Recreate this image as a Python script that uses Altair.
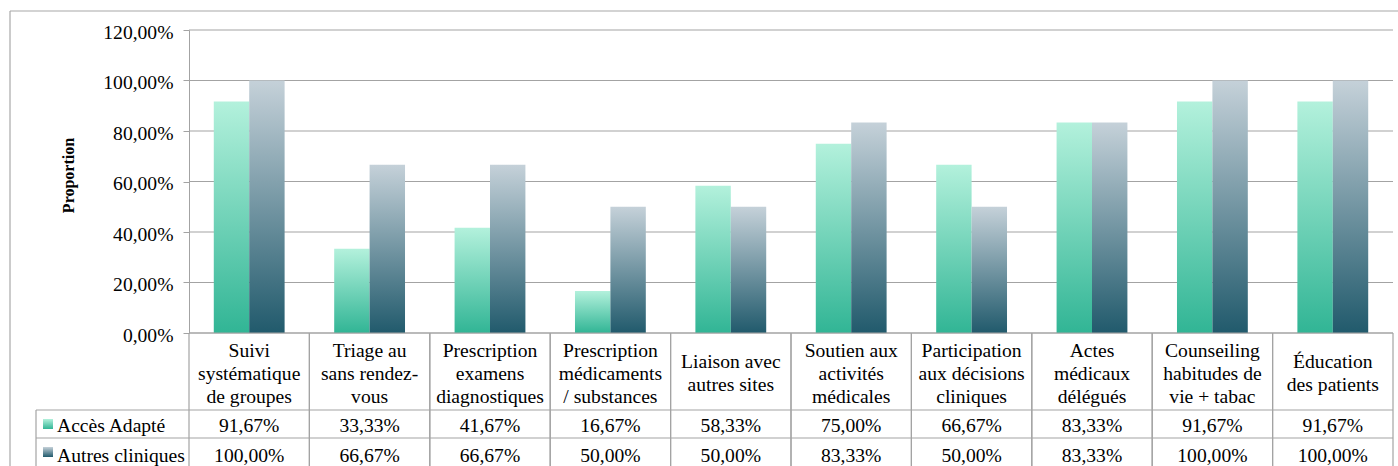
import altair as alt
import pandas as pd

category_lines = [
    ["Suivi", "systématique", "de groupes"],
    ["Triage au", "sans rendez-", "vous"],
    ["Prescription", "examens", "diagnostiques"],
    ["Prescription", "médicaments", "/ substances"],
    ["Liaison avec", "autres sites"],
    ["Soutien aux", "activités", "médicales"],
    ["Participation", "aux décisions", "cliniques"],
    ["Actes", "médicaux", "délégués"],
    ["Counseiling", "habitudes de", "vie + tabac"],
    ["Éducation", "des patients"],
]
categories = [" ".join(l) for l in category_lines]
series_names = ["Accès Adapté", "Autres cliniques"]
acces_adapte = [0.9167, 0.3333, 0.4167, 0.1667, 0.5833, 0.75, 0.6667, 0.8333, 0.9167, 0.9167]
autres_cliniques = [1.0, 0.6667, 0.6667, 0.50, 0.50, 0.8333, 0.50, 0.8333, 1.0, 1.0]
y_ticks = [0, 0.2, 0.4, 0.6, 0.8, 1.0, 1.2]

FONT = "Liberation Serif"
FS = 19.6
GRID = "#a3a3a3"

grad_green = {"gradient": "linear", "x1": 0, "y1": 0, "x2": 0, "y2": 1,
              "stops": [{"offset": 0, "color": "#b3f1dc"}, {"offset": 1, "color": "#31b595"}]}
grad_grey = {"gradient": "linear", "x1": 0, "y1": 0, "x2": 0, "y2": 1,
             "stops": [{"offset": 0, "color": "#c5d1d9"}, {"offset": 1, "color": "#215a6c"}]}
gradients = [grad_green, grad_grey]

rows = []
for i, c in enumerate(categories):
    rows.append({"category": c, "series": series_names[0], "value": acces_adapte[i]})
    rows.append({"category": c, "series": series_names[1], "value": autres_cliniques[i]})
df = pd.DataFrame(rows)

W, H = 1204, 303

xenc = alt.X("category:N", sort=categories,
             scale=alt.Scale(paddingInner=0, paddingOuter=0), axis=None)

base = alt.Chart(df)

grid = alt.Chart(pd.DataFrame({"t": y_ticks})).mark_rule(color=GRID, strokeWidth=1.2).encode(
    y=alt.Y("t:Q", scale=alt.Scale(domain=[0, 1.2])),
    x=alt.value(0), x2=alt.value(W))

bars = []
for s, g in zip(series_names, gradients):
    bars.append(base.transform_filter(alt.datum.series == s).mark_bar(fill=g).encode(
        x=xenc,
        xOffset=alt.XOffset("series:N", scale=alt.Scale(domain=series_names, paddingOuter=0.7, paddingInner=0)),
        y=alt.Y("value:Q", scale=alt.Scale(domain=[0, 1.2], nice=False),
                axis=alt.Axis(values=y_ticks, grid=False,
                              labelExpr="replace(format(datum.value, '.2%'), '.', ',')",
                              labelFont=FONT, labelFontSize=FS, labelColor="#000",
                              labelPadding=10, labelOffset=2,
                              tickColor=GRID, tickSize=6, domainColor=GRID,
                              title="Proportion", titleFont=FONT, titleFontSize=16,
                              titleFontWeight="bold", titleColor="#000",
                              titleX=-121, titleY=145, titleAngle=-90,
                              titleBaseline="middle", titleAlign="center")),
    ))

cat_df = pd.DataFrame({"category": categories,
                       "label": ["\n".join(l) for l in category_lines],
                       "n": [len(l) for l in category_lines]})
cat_base = alt.Chart(cat_df)

cat_text = []
for n, yv in ((3, 327), (2, 338)):
    cat_text.append(cat_base.transform_filter(alt.datum.n == n).mark_text(
        font=FONT, fontSize=FS, lineBreak="\n", lineHeight=23,
        baseline="alphabetic", color="#000").encode(
        x=xenc, y=alt.value(yv), text="label:N"))

edges_l = cat_base.mark_rule(color=GRID, strokeWidth=1.2).encode(
    x=alt.X("category:N", sort=categories, scale=alt.Scale(paddingInner=0, paddingOuter=0),
            axis=None, bandPosition=0),
    y=alt.value(H), y2=alt.value(436))
edges_r = cat_base.mark_rule(color=GRID, strokeWidth=1.2).encode(
    x=alt.X("category:N", sort=categories, scale=alt.Scale(paddingInner=0, paddingOuter=0),
            axis=None, bandPosition=1),
    y=alt.value(H), y2=alt.value(436))

one = pd.DataFrame({"k": [0]})
hlines = [
    alt.Chart(one).mark_rule(color=GRID, strokeWidth=1.2).encode(
        x=alt.value(-153), x2=alt.value(W), y=alt.value(yv))
    for yv in (380, 408)
] + [
    alt.Chart(one).mark_rule(color=GRID, strokeWidth=1.2).encode(
        x=alt.value(0), x2=alt.value(W), y=alt.value(H)),
    alt.Chart(one).mark_rule(color=GRID, strokeWidth=1.2).encode(
        x=alt.value(-153), y=alt.value(380), y2=alt.value(436)),
    # outer chart border
    alt.Chart(one).mark_rule(color="#a8a8a8", strokeWidth=1.2).encode(
        x=alt.value(-179), x2=alt.value(W + 10), y=alt.value(-19)),
    alt.Chart(one).mark_rule(color="#a8a8a8", strokeWidth=1.2).encode(
        x=alt.value(-179), y=alt.value(-19), y2=alt.value(440)),
]

row_y = [402, 432]
swatch_y = [389, 417]
table_layers = []
for s, g, ry, sy in zip(series_names, gradients, row_y, swatch_y):
    table_layers.append(base.transform_filter(alt.datum.series == s).transform_calculate(
        txt="replace(format(datum.value, '.2%'), '.', ',')").mark_text(
        font=FONT, fontSize=FS, color="#000", baseline="alphabetic").encode(
        x=xenc, y=alt.value(ry), text="txt:N"))
    leg = pd.DataFrame({"series": [s]})
    table_layers.append(alt.Chart(leg).mark_rect(fill=g).encode(
        x=alt.value(-146), x2=alt.value(-136), y=alt.value(sy), y2=alt.value(sy + 10)))
    table_layers.append(alt.Chart(leg).mark_text(
        font=FONT, fontSize=FS, color="#000", align="left", baseline="alphabetic").encode(
        x=alt.value(-132), y=alt.value(ry), text="series:N"))

chart = alt.layer(grid, *bars, *cat_text, edges_l, edges_r, *hlines, *table_layers).properties(
    width=W, height=H,
    autosize=alt.AutoSizeParams(type="none"),
    padding={"left": 189, "top": 30, "right": 5, "bottom": 133},
    background="white",
).configure_view(stroke=None)

chart.save("out.html", embed_options={"renderer": "svg", "actions": False})
